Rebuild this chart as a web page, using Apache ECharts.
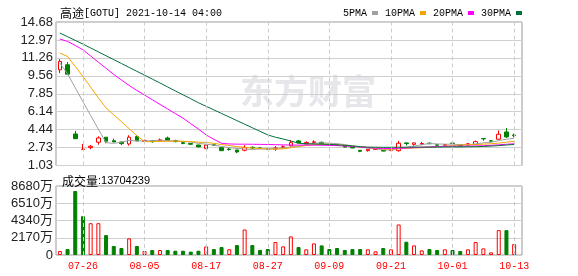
<!DOCTYPE html>
<html><head><meta charset="utf-8">
<script src="https://cdn.jsdelivr.net/npm/echarts@6/dist/echarts.min.js"></script>
<style>html,body{margin:0;padding:0;background:#fff}#main{width:578px;height:276px}</style>
</head><body><div id="main"></div>
<script>
const dates = ['07-21','07-22','07-23','07-26','07-27','07-28','07-29','07-30','08-02','08-03','08-04','08-05','08-06','08-09','08-10','08-11','08-12','08-13','08-16','08-17','08-18','08-19','08-20','08-23','08-24','08-25','08-26','08-27','08-30','08-31','09-01','09-02','09-03','09-07','09-08','09-09','09-10','09-13','09-14','09-15','09-16','09-17','09-20','09-21','09-22','09-23','09-24','09-27','09-28','09-29','09-30','10-01','10-04','10-05','10-06','10-07','10-08','10-11','10-12','10-13'];
const opens  = [10.13,10.61,4.03,2.56,2.73,3.24,3.72,3.39,3.27,3.08,3.78,3.33,3.37,3.37,3.65,3.40,3.20,3.13,2.98,2.63,3.00,2.73,2.60,2.51,2.48,2.76,2.70,2.62,2.62,2.75,2.92,3.37,3.10,3.22,3.24,3.05,3.00,2.90,2.82,2.47,2.44,2.55,2.48,2.45,2.44,3.18,3.04,3.05,3.15,3.00,2.95,3.16,2.98,2.98,3.02,3.60,3.38,3.53,4.22,3.93];
const closes = [10.93,9.72,3.58,2.58,2.86,3.65,3.34,3.27,3.11,3.72,3.37,3.40,3.30,3.47,3.40,3.30,3.13,3.05,2.80,2.98,2.95,2.44,2.55,2.32,2.76,2.70,2.65,2.58,2.70,2.82,3.20,3.18,3.22,3.29,3.08,3.00,2.95,2.78,2.70,2.38,2.57,2.60,2.40,2.55,3.15,3.12,3.18,3.12,3.10,2.96,3.02,3.12,2.88,3.10,3.30,3.57,3.34,4.00,3.75,3.89];
const lows   = [9.82,9.72,3.58,2.56,2.57,3.01,3.15,3.27,2.98,2.92,3.37,3.27,3.20,3.33,3.40,3.24,3.05,3.00,2.78,2.60,2.90,2.44,2.45,2.20,2.38,2.62,2.60,2.55,2.43,2.70,2.83,3.15,2.98,3.15,3.05,2.95,2.92,2.75,2.68,2.30,2.35,2.50,2.38,2.40,2.35,2.93,2.90,2.96,3.07,2.94,2.92,3.05,2.85,2.92,2.98,3.38,3.30,3.50,3.65,3.72];
const highs  = [11.15,10.87,4.32,3.08,2.98,3.81,3.72,3.58,3.27,3.91,3.91,3.50,3.45,3.60,3.78,3.48,3.25,3.18,3.00,3.00,3.05,2.75,2.70,2.51,2.96,2.85,2.80,2.65,2.88,2.95,3.46,3.46,3.33,3.43,3.30,3.10,3.05,2.92,2.82,2.50,2.60,2.62,2.50,2.60,3.37,3.20,3.19,3.27,3.22,3.02,3.05,3.30,3.00,3.18,3.40,3.60,3.45,4.37,4.60,4.06];
const ma5  = [10.78,9.75,8.42,7.09,5.79,4.48,3.20,3.14,3.25,3.42,3.36,3.37,3.38,3.45,3.39,3.37,3.32,3.27,3.14,3.05,2.98,2.84,2.74,2.65,2.60,2.55,2.60,2.60,2.68,2.69,2.79,2.90,3.02,3.14,3.19,3.15,3.11,3.02,2.90,2.76,2.68,2.61,2.53,2.50,2.65,2.76,2.86,3.01,3.12,3.08,3.06,3.06,3.01,3.01,3.08,3.19,3.24,3.40,3.53,3.62];
const ma10 = [11.73,11.40,10.46,9.49,8.49,7.46,6.50,5.85,5.20,4.54,3.87,3.30,3.30,3.32,3.33,3.35,3.33,3.30,3.25,3.22,3.14,3.02,2.94,2.82,2.75,2.70,2.64,2.60,2.58,2.62,2.72,2.84,2.93,3.00,3.05,3.04,3.00,2.95,2.88,2.80,2.73,2.66,2.60,2.58,2.62,2.66,2.70,2.72,2.76,2.82,2.86,2.92,2.98,3.00,3.03,3.06,3.10,3.16,3.25,3.33];
const ma20 = [13.06,12.83,12.45,12.04,11.45,10.86,10.28,9.69,9.16,8.64,8.17,7.73,7.29,6.84,6.41,5.97,5.53,5.01,4.50,3.94,3.52,3.14,3.08,3.06,3.06,3.05,3.04,3.03,3.01,2.99,2.98,2.97,2.97,2.97,2.96,2.94,2.92,2.88,2.84,2.79,2.73,2.68,2.65,2.64,2.66,2.69,2.72,2.76,2.80,2.83,2.85,2.86,2.87,2.88,2.89,2.91,2.95,3.00,3.05,3.10];
const ma30 = [13.63,13.28,12.93,12.58,12.21,11.84,11.47,11.10,10.73,10.36,9.99,9.62,9.25,8.88,8.50,8.12,7.75,7.38,7.00,6.66,6.32,5.98,5.64,5.30,4.96,4.62,4.28,3.94,3.72,3.55,3.36,3.15,3.10,3.08,3.06,3.04,3.00,2.95,2.90,2.82,2.78,2.77,2.76,2.76,2.77,2.77,2.78,2.78,2.78,2.78,2.79,2.80,2.80,2.81,2.82,2.84,2.88,2.92,2.98,3.03];
const volumes = [500,750,8050,4880,4000,4000,2500,1130,880,2090,1130,500,630,630,630,540,540,420,540,1080,750,1000,710,1250,3210,1250,630,750,1630,1080,2340,1000,710,1460,1210,750,880,630,750,750,710,460,880,710,3840,1670,1210,580,750,630,710,630,500,710,1630,830,330,3130,3130,1370.4239];
const volDir = [1,-1,-1,-1,1,1,-1,-1,-1,1,-1,1,-1,1,-1,-1,-1,-1,-1,1,-1,-1,1,-1,1,-1,-1,-1,1,1,1,-1,1,1,-1,-1,-1,-1,-1,-1,1,1,-1,1,1,-1,1,1,-1,-1,1,-1,-1,1,1,1,1,1,-1,1];
const priceTicks = ['1.03','2.73','4.44','6.14','7.85','9.56','11.26','12.97','14.68'];
const volTicks = ['0','2170万','4340万','6510万','8680万'];
const labelDates = ['07-26','08-05','08-17','08-27','09-09','09-21','10-01','10-13'];
const maNames = ['5PMA','10PMA','20PMA','30PMA'];

const RED = '#ff0000', GREEN = '#008000';
const maColors = ['#a0a0a0','#f4a300','#ff00ff','#00703a'];
const vline = {symbol:['none','none'], silent:true, animation:false, label:{show:false},
  lineStyle:{color:'#cccccc', type:[4,3], width:1}, data: labelDates.map(d => ({xAxis:d}))};

const chart = echarts.init(document.getElementById('main'));
chart.setOption({
  animation:false,
  title:[
    {text:'{a|高途}{b|[GOTU] 2021-10-14 04:00}', left:55, top:2,
     textStyle:{rich:{a:{fontSize:12,fontFamily:'Noto Sans CJK SC',color:'#000',fontWeight:'normal'},
                      b:{fontSize:10,fontFamily:'Liberation Mono',color:'#000',fontWeight:'normal'}}}},
    {text:'{a|成交量}{b|:' + String(Math.round(volumes[volumes.length-1]*10000)) + '}', left:57, top:170,
     textStyle:{rich:{a:{fontSize:12,fontFamily:'Noto Sans CJK SC',color:'#000',fontWeight:'normal'},
                      b:{fontSize:11,fontFamily:'Liberation Sans',color:'#000',fontWeight:'normal'}}}}
  ],
  legend:{data:maNames, top:3, left:338, align:'right', icon:'rect', itemWidth:6, itemHeight:4, itemGap:7,
    selectedMode:false, textStyle:{fontFamily:'Liberation Mono', fontSize:10, color:'#000'}},
  graphic:[{type:'text', left:240, top:74, z:-10, silent:true,
    style:{text:'东方财富', fontSize:34, fontWeight:'bold', fontFamily:'Noto Sans CJK SC', fill:'#e6e6eb'}}],
  grid:[
    {left:56, top:22, width:466, height:143.5, show:true, borderColor:'#999', borderWidth:1, backgroundColor:'transparent'},
    {left:56, top:22, width:462, height:143.5},
    {left:56, top:186, width:466, height:69, show:true, borderColor:'#999', borderWidth:1, backgroundColor:'transparent'},
    {left:56, top:186, width:462, height:69}
  ],
  xAxis:[
    {gridIndex:0, type:'value', show:false, min:0, max:1},
    {gridIndex:1, type:'category', data:dates, show:false, boundaryGap:true},
    {gridIndex:2, type:'value', show:false, min:0, max:1},
    {gridIndex:3, type:'category', data:dates, boundaryGap:true,
     axisLine:{show:false}, axisTick:{show:false}, splitLine:{show:false},
     axisLabel:{interval:(i,v)=>labelDates.indexOf(v)>=0, color:RED, fontFamily:'Liberation Mono', fontSize:10, margin:6, hideOverlap:false}}
  ],
  yAxis:[
    {gridIndex:0, type:'value', min:0, max:8, interval:1, axisLine:{show:false}, axisTick:{show:false},
     splitLine:{lineStyle:{color:'#d0d0d0'}},
     axisLabel:{formatter:v=>priceTicks[Math.round(v)], fontSize:13, color:'#222', margin:3, fontFamily:'Liberation Sans'}},
    {gridIndex:1, type:'value', min:1.03, max:14.68, show:false},
    {gridIndex:2, type:'value', min:0, max:4, interval:1, axisLine:{show:false}, axisTick:{show:false},
     splitLine:{lineStyle:{color:'#d0d0d0'}},
     axisLabel:{formatter:v=>volTicks[Math.round(v)], fontSize:13, color:'#222', margin:3, fontFamily:'Liberation Sans, Noto Sans CJK SC'}},
    {gridIndex:3, type:'value', min:0, max:8680, show:false}
  ],
  series:[
    {type:'candlestick', name:'K', xAxisIndex:1, yAxisIndex:1, barWidth:4,
     data: dates.map((d,i)=>[opens[i], closes[i], lows[i], highs[i]]),
     itemStyle:{color:'transparent', color0:GREEN, borderColor:RED, borderColor0:GREEN, borderWidth:1},
     markLine: vline},
    ...[ma5, ma10, ma20, ma30].map((arr, k) => ({
      type:'line', name:maNames[k], xAxisIndex:1, yAxisIndex:1, data:arr, symbol:'none', showSymbol:false,
      lineStyle:{width:1, color:maColors[k]}, itemStyle:{color:maColors[k]}, z:4})),
    {type:'bar', name:'VOL', xAxisIndex:3, yAxisIndex:3, barWidth:4,
     data: volumes.map((v,i)=>({value:v, itemStyle: volDir[i] > 0
        ? {color:'transparent', borderColor:RED, borderWidth:1}
        : {color:GREEN, borderColor:GREEN, borderWidth:1}})),
     markLine: vline}
  ]
});
</script></body></html>
